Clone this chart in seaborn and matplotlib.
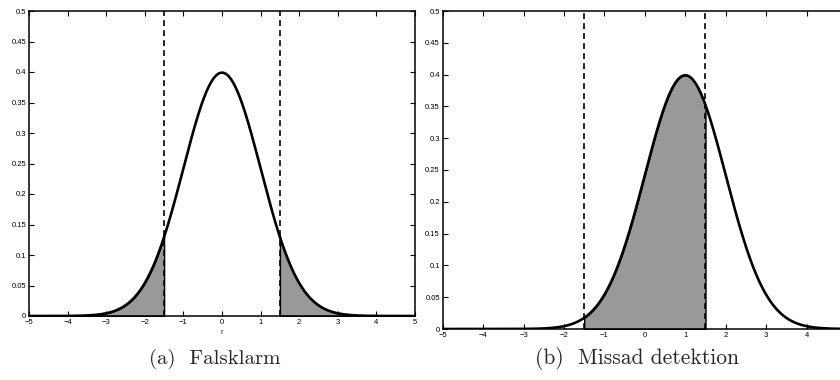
import numpy as np
import pandas as pd
import seaborn as sns
import matplotlib
matplotlib.use("Agg")
import matplotlib.pyplot as plt

# ---- data ----
means = [0.0, 1.0]           # mean of the density in panel (a) and (b)
sigma = 1.0
thresholds = [-1.5, 1.5]     # dashed decision thresholds
captions = ["(a)  Falsklarm", "(b)  Missad detektion"]
xlabel_a = "r"
x_ticks = [-5, -4, -3, -2, -1, 0, 1, 2, 3, 4, 5]
x_ticklabels = ["\u22125", "\u22124", "\u22123", "\u22122", "\u22121", "0", "1", "2", "3", "4", "5"]
y_ticks = [0, 0.05, 0.1, 0.15, 0.2, 0.25, 0.3, 0.35, 0.4, 0.45, 0.5]
y_ticklabels = ["0", "0.05", "0.1", "0.15", "0.2", "0.25", "0.3", "0.35", "0.4", "0.45", "0.5"]

x = np.linspace(-5, 5, 1001)

def pdf(x, mu):
    return np.exp(-0.5 * ((x - mu) / sigma) ** 2) / (sigma * np.sqrt(2 * np.pi))

sns.set_style("ticks")
plt.rcParams['font.family'] = ['Liberation Sans', 'DejaVu Sans']

fig = plt.figure(figsize=(8.4, 3.8), dpi=100)
ax_a = fig.add_axes([29/840, 1 - 316/380, (415-29)/840, (316-11)/380])
ax_b = fig.add_axes([442.7/840, 1 - 329/380, (847-442.7)/840, (329-11)/380])

gray = "#999999"

for i, ax in enumerate([ax_a, ax_b]):
    mu = means[i]
    y = pdf(x, mu)
    df = pd.DataFrame({"x": x, "y": y})
    if i == 0:
        lo = x <= thresholds[0]
        hi = x >= thresholds[1]
        ax.fill_between(x[lo], 0, y[lo], color=gray, edgecolor="black", linewidth=1.0, zorder=1)
        ax.fill_between(x[hi], 0, y[hi], color=gray, edgecolor="black", linewidth=1.0, zorder=1)
    else:
        mid = (x >= thresholds[0]) & (x <= thresholds[1])
        ax.fill_between(x[mid], 0, y[mid], color=gray, edgecolor="black", linewidth=1.0, zorder=1)
    for t in thresholds:
        ax.axvline(t, color="black", linestyle=(0, (3.5, 2.5)), linewidth=1.2, zorder=2)
    sns.lineplot(data=df, x="x", y="y", ax=ax, color="black", linewidth=1.9, zorder=3)
    ax.set_xlim(-5, 5)
    ax.set_ylim(0, 0.5)
    ax.set_xticks(x_ticks)
    labels = list(x_ticklabels)
    if i == 1:
        labels[-1] = ""   # the last label falls outside the figure in the reference
    ax.set_xticklabels(labels)
    ax.set_yticks(y_ticks)
    ax.set_yticklabels(y_ticklabels)
    ax.tick_params(direction="in", length=3.5, width=0.8, labelsize=5.5, pad=2,
                   top=True, right=True, colors="black")
    ax.set_ylabel("")
    ax.set_xlabel("")
    for s in ax.spines.values():
        s.set_linewidth(1.1)
        s.set_color("black")
        s.set_visible(True)

ax_a.set_xlabel(xlabel_a, fontsize=5.5, labelpad=2)

fig.text(215/840, 1 - 364/380, captions[0], ha="center", va="baseline",
         fontsize=15, family=["cmr10", "DejaVu Serif"])
fig.text(637/840, 1 - 364/380, captions[1], ha="center", va="baseline",
         fontsize=15.5, family=["cmr10", "DejaVu Serif"])

fig.savefig("out.png", dpi=100, facecolor="white")
